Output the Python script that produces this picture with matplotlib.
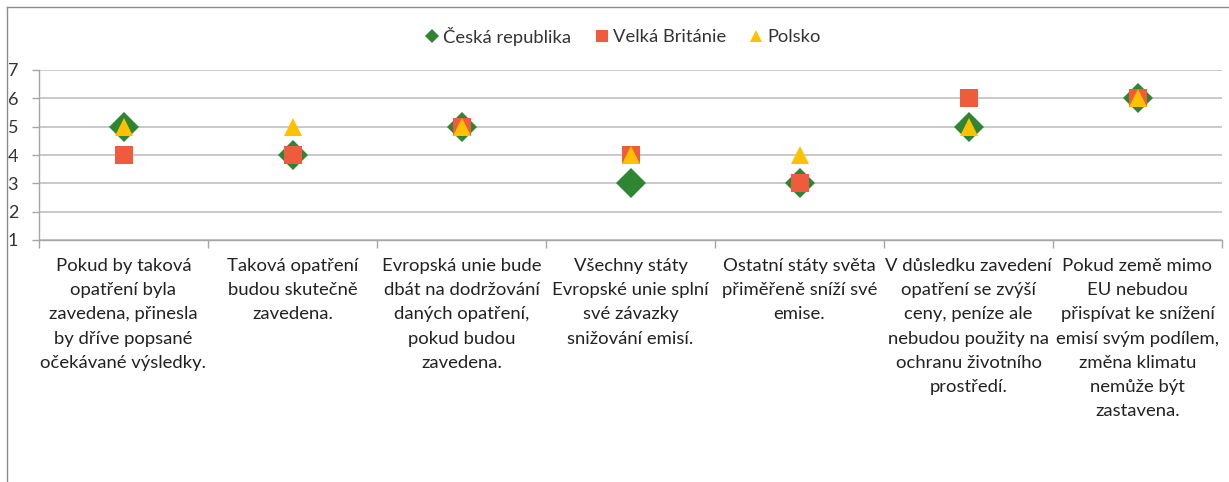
import matplotlib
matplotlib.use("Agg")
import matplotlib.pyplot as plt
from matplotlib.lines import Line2D

categories = [
    "Pokud by taková\nopatření byla\nzavedena, přinesla\nby dříve popsané\nočekávané výsledky.",
    "Taková opatření\nbudou skutečně\nzavedena.",
    "Evropská unie bude\ndbát na dodržování\ndaných opatření,\npokud budou\nzavedena.",
    "Všechny státy\nEvropské unie splní\nsvé závazky\nsnižování emisí.",
    "Ostatní státy světa\npřiměřeně sníží své\nemise.",
    "V důsledku zavedení\nopatření se zvýší\nceny, peníze ale\nnebudou použity na\nochranu životního\nprostředí.",
    "Pokud země mimo\nEU nebudou\npřispívat ke snížení\nemisí svým podílem,\nzměna klimatu\nnemůže být\nzastavena.",
]
series_names = ["Česká republika", "Velká Británie", "Polsko"]
cz = [5, 4, 5, 3, 3, 5, 6]
uk = [4, 4, 5, 4, 3, 6, 6]
pl = [5, 5, 5, 4, 4, 5, 6]
yticks = [1, 2, 3, 4, 5, 6, 7]

plt.rcParams['font.family'] = ['Lato', 'DejaVu Sans']

W, H = 1229, 482
fig = plt.figure(figsize=(W / 100, H / 100), dpi=100)
ax = fig.add_axes([39 / W, 1 - 240 / H, (1222 - 39) / W, (240 - 70) / H])

green = '#2e8532'
red = '#ef5b3c'
yellow = '#ffc000'

x = [i + 0.5 for i in range(len(categories))]
ax.plot(x, cz, linestyle='none', marker='D', markersize=15.5, color=green, markeredgewidth=0, zorder=3)
ax.plot(x, uk, linestyle='none', marker='s', markersize=13.5, color=red, markeredgewidth=0, zorder=4)
ax.plot(x, pl, linestyle='none', marker='^', markersize=13, color=yellow, markeredgewidth=0, zorder=5)

ax.set_xlim(0, len(categories))
ax.set_ylim(1, 7)
ax.set_yticks(yticks)
ax.set_yticklabels([str(v) for v in yticks], fontsize=13, color='#333333')
ax.grid(axis='y', color='#c0c0c0', linewidth=1.2, zorder=0)
ax.set_axisbelow(True)

ax.set_xticks(range(len(categories) + 1))
ax.set_xticklabels([])
ax.set_xticks(x, minor=True)
ax.set_xticklabels(categories, minor=True, fontsize=13.3, color='#222222', linespacing=1.63)
ax.tick_params(axis='x', which='major', direction='out', length=6, color='#a6a6a6', width=1)
ax.tick_params(axis='x', which='minor', length=0, pad=13)
ax.tick_params(axis='y', direction='out', length=5, color='#a6a6a6', width=1, pad=10)
for lab in ax.get_yticklabels():
    lab.set_horizontalalignment('right')

for s in ['top', 'right']:
    ax.spines[s].set_visible(False)
for s in ['left', 'bottom']:
    ax.spines[s].set_color('#a6a6a6')
    ax.spines[s].set_linewidth(1)

handles = [
    Line2D([], [], linestyle='none', marker='D', markersize=7, color=green, markeredgewidth=0),
    Line2D([], [], linestyle='none', marker='s', markersize=9, color=red, markeredgewidth=0),
    Line2D([], [], linestyle='none', marker='^', markersize=9, color=yellow, markeredgewidth=0),
]
fig.legend(handles, series_names, loc='center', bbox_to_anchor=(622 / W, 1 - 36 / H), ncol=3,
           frameon=False, fontsize=13.2, handletextpad=0.1, columnspacing=1.15, handlelength=1.0,
           labelcolor='#333333')

# outer chart border
fig.add_artist(Line2D([7 / W, 7 / W], [0, 1 - 7 / H], transform=fig.transFigure, color='#8c8c8c', linewidth=1))
fig.add_artist(Line2D([7 / W, 1], [1 - 7 / H, 1 - 7 / H], transform=fig.transFigure, color='#8c8c8c', linewidth=1))

fig.savefig('out.png', dpi=100)
